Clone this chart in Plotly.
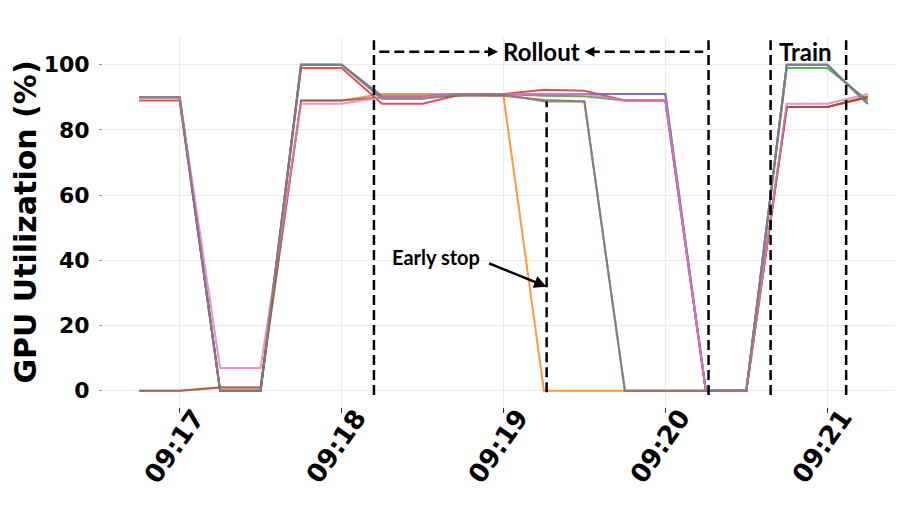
import plotly.graph_objects as go

# sample times (15 s interval)
times = ["09:16:45", "09:17:00", "09:17:15", "09:17:30", "09:17:45", "09:18:00",
         "09:18:15", "09:18:30", "09:18:45", "09:19:00", "09:19:15", "09:19:30",
         "09:19:45", "09:20:00", "09:20:15", "09:20:30", "09:20:45", "09:21:00",
         "09:21:15"]

gpu0 = [90, 90, 0, 0, 100, 100, 90, 90, 91, 91, 91, 91, 91, 91, 0, 0, 100, 100, 88]
gpu1 = [0, 0, 1, 1, 89, 89, 91, 91, 91, 90.5, 0, 0, 0, 0, 0, 0, 87, 87, 90.5]
gpu2 = [90, 90, 0, 0, 100, 100, 90, 90, 91, 91, 90.5, 90.3, 89, 89, 0, 0, 99, 99, 89]
gpu3 = [89, 89, 0, 0, 99, 99, 88, 88, 91, 91, 92.3, 92, 89, 89, 0, 0, 87, 87, 90]
gpu4 = [90, 90, 0, 0, 100, 100, 90.5, 90.5, 91, 91, 91, 91, 91, 91, 0, 0, 100, 100, 88]
gpu5 = [0, 0, 1, 1, 89, 89, 90, 90, 90.5, 90.5, 89.2, 88.7, 0, 0, 0, 0, 87, 87, 90]
gpu6 = [90, 90, 7, 7, 88, 88, 90, 90, 91, 91, 91, 91, 89, 89, 0, 0, 88, 88, 91]
gpu7 = [90, 90, 0, 0, 100, 100, 89.5, 89.5, 91, 91, 88.7, 88.7, 0, 0, 0, 0, 100, 100, 88]

tick_labels = ["09:17", "09:18", "09:19", "09:20", "09:21"]

series = [gpu0, gpu1, gpu2, gpu3, gpu4, gpu5, gpu6, gpu7]
colors = ['#1f77b4', '#ff7f0e', '#2ca02c', '#d62728',
          '#9467bd', '#8c564b', '#e377c2', '#7f7f7f']

# phase markers
rollout_start = "09:18:12"
early_stop = "09:19:16"
rollout_end = "09:20:16"
train_start = "09:20:39"
train_end = "09:21:07"

day = "2024-01-01 "
x = [day + t for t in times]
tick_vals = [day + t for t in tick_labels]

fig = go.Figure()

for i, (vals, c) in enumerate(zip(series, colors)):
    fig.add_trace(go.Scatter(
        x=x, y=vals, mode='lines', name=f'GPU {i}',
        line=dict(color=c, width=2), opacity=0.8, showlegend=False
    ))

dash_line = dict(color='black', width=2.5, dash='10px,5px')
for t in [rollout_start, rollout_end, train_start, train_end]:
    fig.add_shape(type='line', x0=day + t, x1=day + t, y0=-1.3, y1=107.5,
                  line=dash_line, layer='above')
fig.add_shape(type='line', x0=day + early_stop, x1=day + early_stop, y0=-0.5, y1=88.7,
              line=dash_line, layer='above')

# rollout span arrows
fig.add_shape(type='line', x0=day + "09:18:14", x1=day + "09:18:56", y0=104, y1=104,
              line=dash_line)
fig.add_shape(type='line', x0=day + "09:19:32", x1=day + "09:20:14", y0=104, y1=104,
              line=dash_line)
fig.add_annotation(x=day + "09:18:58", y=104, ax=-8, ay=0, text='', showarrow=True,
                   arrowhead=2, arrowsize=1, arrowwidth=2, arrowcolor='black')
fig.add_annotation(x=day + "09:19:30", y=104, ax=8, ay=0, text='', showarrow=True,
                   arrowhead=2, arrowsize=1, arrowwidth=2, arrowcolor='black')

label_font = dict(family='Lato', size=24, color='black', weight='bold')
fig.add_annotation(x=day + "09:19:14", y=104, text='Rollout', showarrow=False,
                   font=label_font)
fig.add_annotation(x=day + "09:20:52", y=104, text='Train', showarrow=False,
                   font=label_font)
fig.add_annotation(x=day + "09:18:35", y=41.1, text='Early stop', showarrow=False,
                   font=dict(family='Lato', size=20, color='black', weight='bold'))
fig.add_annotation(x=day + "09:19:16", y=31.9, ax=-59, ay=-24, text='',
                   showarrow=True, arrowhead=2, arrowsize=1, arrowwidth=2.5,
                   arrowcolor='black')

# rotated time labels, centred under each tick
for tv, tl in zip(tick_vals, tick_labels):
    fig.add_annotation(x=tv, y=0, yref='paper', text=tl, showarrow=False,
                       textangle=-55, xanchor='center', yanchor='top',
                       xshift=-5, yshift=6,
                       font=dict(family='DejaVu Sans', size=26, color='black',
                                 weight='bold'))

tick_font = dict(family='DejaVu Sans', size=22, color='black', weight='bold')

# page body adds an 8px offset, so the figure is trimmed to fit
fig.update_layout(
    width=905, height=506,
    margin=dict(l=92, r=18, t=29, b=107),
    plot_bgcolor='white', paper_bgcolor='white',
    showlegend=False
)

fig.update_xaxes(
    range=[day + "09:16:31.6", day + "09:21:25.1"],
    tickvals=tick_vals, showticklabels=False,
    showgrid=True, gridcolor='#ebebeb', gridwidth=1,
    ticks='outside', ticklen=5, tickcolor='#333333', showline=False, zeroline=False
)
fig.update_yaxes(
    range=[-5, 108.5], dtick=20, tickfont=tick_font, ticklabelstandoff=5,
    title=dict(text='GPU Utilization (%)',
               font=dict(family='DejaVu Sans', size=30, color='black', weight='bold'),
               standoff=3),
    showgrid=True, gridcolor='#ebebeb', gridwidth=1,
    ticks='outside', ticklen=3, tickcolor='#999999', showline=False, zeroline=False
)

fig.write_html("out.html")
